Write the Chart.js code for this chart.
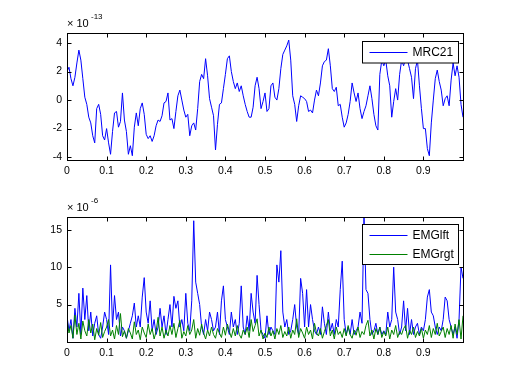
<!DOCTYPE html>
<html>
<head>
<meta charset="utf-8">
<script src="https://cdn.jsdelivr.net/npm/chart.js@4.4.1/dist/chart.umd.min.js"></script>
<style>
  body { margin: 0; background: #fff; }
  .panel { position: absolute; left: 0; width: 512px; height: 192px; }
</style>
</head>
<body>
<div class="panel" style="top:0"><canvas id="topChart" width="512" height="192"></canvas></div>
<div class="panel" style="top:192px"><canvas id="bottomChart" width="512" height="192"></canvas></div>
<script>
const sampleStep = 0.005;
const mrc21 = [
  2.0,2.3,1.5,1.0,1.6,2.6,3.5,2.8,1.5,0.2,
  -0.3,-1.2,-1.6,-2.5,-3.0,-0.6,-0.3,-1.0,-2.5,-2.8,
  -2.0,-3.0,-3.8,-2.2,-0.9,-0.8,-1.9,-1.5,0.5,-1.4,
  -2.2,-3.8,-3.2,-3.9,-1.9,-0.9,-1.8,-0.6,-0.2,-1.0,
  -2.4,-2.7,-2.5,-2.9,-2.5,-1.8,-1.4,-1.5,-1.1,-0.2,
  -0.1,0.5,-1.4,-1.3,-2.0,-0.8,0.3,0.7,0.0,-0.7,
  -1.2,-1.0,-2.5,-1.8,-1.6,-2.1,-0.6,1.3,1.8,1.5,
  2.9,1.7,0.1,-0.5,-1.1,-3.5,-1.7,-0.3,-0.2,0.8,
  1.8,2.9,3.1,2.0,1.3,0.8,1.2,0.6,1.0,0.3,
  -0.3,-0.8,-1.2,-1.2,-0.5,1.0,1.6,0.8,-0.6,-0.1,
  0.5,-0.8,-0.6,1.0,1.2,0.2,0.0,0.8,2.2,3.2,
  3.5,3.8,4.2,2.8,0.3,-0.3,-1.5,-0.4,0.3,0.2,
  0.1,-0.1,-0.8,-0.7,-0.9,0.0,0.7,0.3,1.2,2.4,
  2.7,2.8,3.6,2.4,0.8,0.6,0.9,-0.4,-0.3,-1.2,
  -1.9,-1.6,-1.0,-0.1,1.2,0.5,-0.1,0.5,-0.6,-1.3,
  -0.8,-0.4,0.3,1.0,0.1,-1.0,-1.8,-2.1,1.8,2.8,
  2.4,2.8,1.7,1.0,-1.2,-0.1,0.8,0.0,1.8,2.8,
  2.4,2.9,2.8,2.2,1.6,0.1,2.2,2.8,1.0,-0.6,
  -2.0,-2.0,-3.4,-3.9,-1.6,0.0,1.5,2.1,1.3,0.7,
  -0.4,0.1,0.3,-0.4,1.4,2.6,1.7,2.4,1.6,-0.3,-1.2
];
const emgLeft = [
  3.5,1.5,3.0,0.5,4.5,2.0,6.5,1.0,7.2,3.0,
  6.2,1.5,4.0,0.8,2.5,3.5,1.0,0.5,2.0,4.0,
  3.0,1.0,10.3,2.0,6.2,3.0,4.0,0.8,2.0,1.5,
  0.5,1.5,2.5,3.5,5.2,2.0,3.5,2.0,6.0,8.6,
  4.0,2.5,5.5,1.5,3.0,1.0,2.0,4.5,2.0,3.5,
  1.0,3.0,5.0,2.0,6.1,4.5,5.5,2.0,3.0,1.5,
  6.5,2.5,1.5,5.5,16.2,8.0,6.5,5.0,2.0,1.0,
  3.0,1.5,4.0,3.0,1.5,2.0,4.0,1.0,5.5,7.5,
  3.0,2.0,1.0,4.0,2.0,3.0,1.0,2.5,7.5,2.0,
  1.0,3.5,1.5,6.5,4.0,2.5,8.9,5.0,1.5,1.0,
  0.5,3.5,1.0,2.0,1.5,1.0,10.3,8.0,12.2,4.0,
  2.0,3.0,1.0,1.5,3.0,5.0,2.0,1.0,8.5,6.5,
  2.0,7.0,2.0,5.0,3.0,1.5,1.0,2.0,1.0,4.7,
  2.5,1.0,4.0,1.5,2.5,1.0,3.0,2.0,7.0,10.8,
  3.0,1.0,2.0,1.0,3.0,1.0,1.5,2.0,4.0,2.5,
  17.0,7.0,6.5,3.0,1.0,1.5,2.5,1.0,2.0,1.0,
  1.5,1.0,4.0,2.0,3.0,10.0,4.0,3.0,1.0,2.0,
  5.5,1.5,4.5,1.0,3.0,1.0,2.0,2.5,1.0,2.0,
  1.5,3.0,6.0,7.0,4.0,3.5,2.0,1.0,2.0,1.5,
  3.0,6.0,5.5,3.0,2.0,1.0,2.0,0.5,3.0,10.0,8.5
];
const emgRight = [
  3.0,1.2,2.2,0.5,3.6,1.0,2.5,0.4,2.8,1.5,
  0.8,3.0,1.2,2.4,0.3,1.8,0.9,2.6,0.6,1.4,
  2.0,3.0,0.8,1.6,0.4,2.2,1.0,3.8,0.7,1.5,
  0.5,1.8,1.2,0.4,2.7,1.0,1.6,0.3,2.0,1.2,
  0.6,2.4,1.0,1.8,0.4,1.4,3.3,0.8,2.0,0.5,
  1.6,0.8,2.2,1.0,2.5,0.6,1.8,2.9,0.5,1.4,
  0.8,2.2,1.0,1.6,3.0,0.5,1.8,0.9,2.4,1.2,
  0.4,1.6,0.8,2.0,1.0,0.5,1.8,1.2,0.6,2.0,
  0.9,2.4,1.4,0.6,1.8,0.8,2.2,1.0,0.5,1.6,
  1.0,2.0,0.6,3.0,1.4,2.2,3.1,0.8,1.6,0.4,
  1.2,0.6,2.0,0.8,1.5,0.4,1.8,1.0,2.2,0.6,
  1.4,0.8,2.0,0.5,1.6,1.0,3.1,0.6,1.8,1.2,
  0.5,2.0,1.0,1.6,0.4,2.5,1.2,0.8,1.8,0.5,
  1.4,2.2,3.0,0.8,1.6,0.4,2.0,1.0,1.4,0.6,
  1.8,0.8,2.2,1.0,0.5,1.6,0.9,2.0,0.6,1.4,
  1.0,2.2,2.9,0.8,1.6,0.4,1.8,1.0,2.0,0.6,
  1.4,0.8,2.0,0.4,1.6,1.0,2.2,0.6,1.4,1.0,
  1.8,2.2,0.5,1.6,1.0,2.0,0.6,1.4,0.8,1.8,
  0.5,1.6,1.0,2.2,0.6,1.8,1.0,2.5,0.8,1.4,
  2.0,0.6,1.8,1.0,2.2,0.5,2.4,1.0,3.0,0.4,3.5
];
const xTicks = [0, 0.1, 0.2, 0.3, 0.4, 0.5, 0.6, 0.7, 0.8, 0.9];
const topTicks = [-4, -2, 0, 2, 4];
const bottomTicks = [5, 10, 15];

const times = mrc21.map((v, i) => +(i * sampleStep).toFixed(3));
const FONT = "'Liberation Sans', Arial, sans-serif";

// matlab look: box, inward ticks on all sides, exponent label, legend inside the axes
const matlabFrame = {
  id: "matlabFrame",
  afterDraw(chart, args, opts) {
    const { ctx, chartArea: a, scales } = chart;
    const L = Math.round(a.left) + 0.5, R = Math.round(a.right) + 0.5;
    const T = Math.round(a.top) + 0.5, B = Math.round(a.bottom) + 0.5;
    ctx.save();
    ctx.strokeStyle = "#000";
    ctx.lineWidth = 1;
    ctx.strokeRect(L, T, R - L, B - T);
    ctx.beginPath();
    xTicks.forEach((v) => {
      const x = Math.round(scales.x.getPixelForValue(v)) + 0.5;
      ctx.moveTo(x, B); ctx.lineTo(x, B - 4);
      ctx.moveTo(x, T); ctx.lineTo(x, T + 4);
    });
    opts.yTicks.forEach((v) => {
      const y = Math.round(scales.y.getPixelForValue(v)) + 0.5;
      ctx.moveTo(L, y); ctx.lineTo(L + 4, y);
      ctx.moveTo(R, y); ctx.lineTo(R - 4, y);
    });
    ctx.stroke();

    ctx.fillStyle = "#000";
    ctx.textAlign = "left";
    ctx.textBaseline = "alphabetic";
    ctx.font = "11px " + FONT;
    ctx.fillText("\u00d7 10", a.left, a.top - 6);
    ctx.font = "8px " + FONT;
    ctx.fillText(opts.exponent, a.left + 24, a.top - 14.5);

    // legend
    const items = opts.legend;
    const w = 96, rowH = 18.5;
    const h = items.length * rowH + 3;
    const lx = Math.round(a.right - 5 - w) + 0.5;
    const ly = Math.round(a.top + opts.legendTop) + 0.5;
    ctx.fillStyle = "#fff";
    ctx.fillRect(lx, ly, w, h);
    ctx.strokeStyle = "#000";
    ctx.strokeRect(lx, ly, w, h);
    ctx.font = "12px " + FONT;
    ctx.textBaseline = "middle";
    items.forEach((it, i) => {
      const cy = Math.round(ly + 10.5 + i * rowH) + 0.5;
      ctx.strokeStyle = it.color;
      ctx.beginPath();
      ctx.moveTo(lx + 7, cy); ctx.lineTo(lx + 45, cy);
      ctx.stroke();
      ctx.fillStyle = "#000";
      ctx.fillText(it.label, lx + 50, cy + 0.5);
    });
    ctx.restore();
  },
};

function makeChart(id, datasets, yMin, yMax, yTicks, pad, xHeight, frame) {
  return new Chart(document.getElementById(id), {
    type: "line",
    data: { labels: times, datasets: datasets },
    options: {
      responsive: false,
      devicePixelRatio: 1,
      animation: false,
      layout: { padding: { top: pad, right: 49, left: 0, bottom: 0 } },
      plugins: { legend: { display: false }, tooltip: { enabled: false }, matlabFrame: frame },
      elements: { point: { radius: 0 }, line: { borderWidth: 1, tension: 0 } },
      scales: {
        x: {
          type: "linear", min: 0, max: 1,
          grid: { display: false, drawTicks: false }, border: { display: false },
          afterBuildTicks: (s) => { s.ticks = xTicks.map((v) => ({ value: v })); },
          afterFit: (s) => { s.height = xHeight; },
          ticks: { color: "#000", padding: 5, maxRotation: 0, font: { family: FONT, size: 10.5 }, callback: (v) => String(v) },
        },
        y: {
          min: yMin, max: yMax,
          grid: { display: false, drawTicks: false }, border: { display: false },
          afterBuildTicks: (s) => { s.ticks = yTicks.map((v) => ({ value: v })); },
          afterFit: (s) => { s.width = 67; },
          ticks: { color: "#000", padding: 5, font: { family: FONT, size: 10.5 }, callback: (v) => String(v) },
        },
      },
    },
    plugins: [matlabFrame],
  });
}

makeChart("topChart",
  [{ label: "MRC21", data: mrc21, borderColor: "#0000ff" }],
  -4.2, 4.7, topTicks, 33, 32,
  { yTicks: topTicks, exponent: "-13", legendTop: 7.5, legend: [{ label: "MRC21", color: "#0000ff" }] });

makeChart("bottomChart",
  [
    { label: "EMGlft", data: emgLeft, borderColor: "#0000ff", order: 1 },
    { label: "EMGrgt", data: emgRight, borderColor: "#008000", order: 0 },
  ],
  0, 16.7, bottomTicks, 25, 42,
  { yTicks: bottomTicks, exponent: "-6", legendTop: 6.5,
    legend: [{ label: "EMGlft", color: "#0000ff" }, { label: "EMGrgt", color: "#008000" }] });
</script>
</body>
</html>
